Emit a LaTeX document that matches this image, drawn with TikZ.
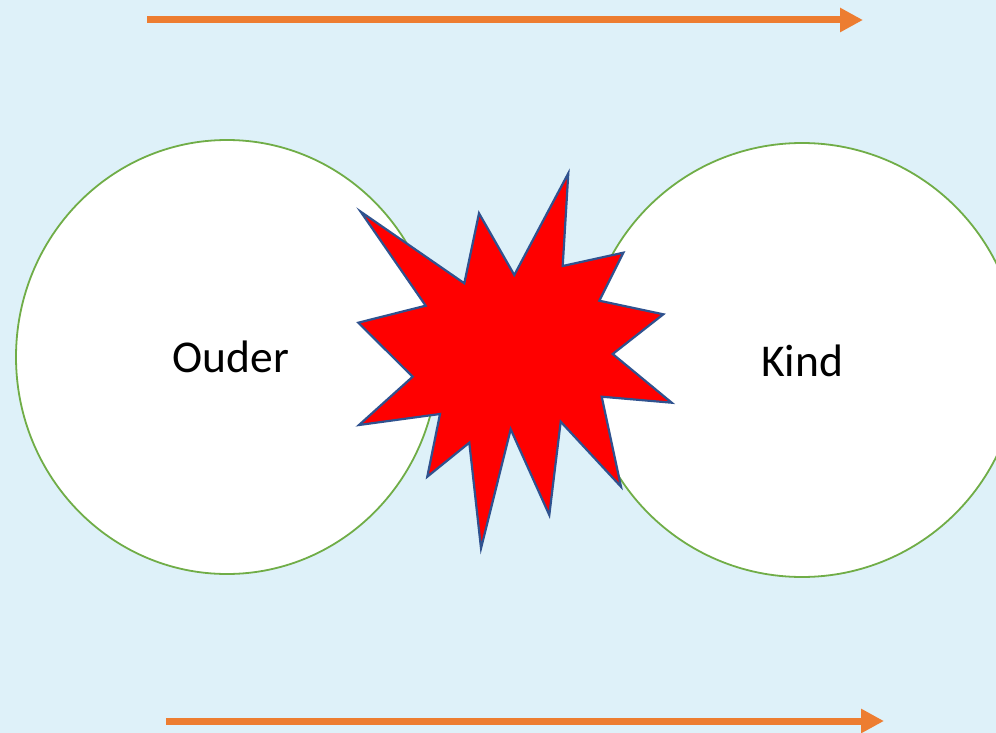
\documentclass[tikz,border=0pt]{standalone}
\usepackage{fontspec}
\setmainfont{Carlito}
\usetikzlibrary{arrows.meta,shapes.geometric}
\definecolor{bgblue}{RGB}{222,241,249}
\definecolor{orangearr}{RGB}{237,125,49}
\definecolor{greenring}{RGB}{112,173,71}
\definecolor{starblue}{RGB}{47,82,143}
\definecolor{starred}{RGB}{255,0,0}
\tikzset{
  ring/.style={ellipse, draw=greenring, fill=white, line width=1.8pt, inner sep=0pt},
  flow/.style={draw=orangearr, line width=7pt, -{Triangle[length=23pt,width=23pt]}},
  lbl/.style={font=\fontsize{45.5}{52}\selectfont, text=black},
  burst/.style={draw=starblue, fill=starred, line width=2.2pt, line join=miter}
}
\begin{document}
\begin{tikzpicture}[x=1pt,y=-1pt]
\fill[bgblue] (0,0) rectangle (996,733);
\useasboundingbox (0,0) rectangle (996,733);
\begin{scope}
\clip (0,0) rectangle (996,733);
\node[ring, minimum width=422pt, minimum height=434pt] (ouder) at (227,357) {};
\node[ring, minimum width=434pt, minimum height=434pt] (kind) at (802,360) {};
\end{scope}
\draw[burst] (360.7,211.7) -- (464.3,283.3) -- (479,213.3) -- (514.3,275) -- (568.3,173.3) -- (562.7,266) -- (623.3,252.7) -- (599.3,300.7) -- (663.3,314.3) -- (612.7,354) -- (671.7,402.7) -- (601.7,396.7) -- (621,486.7) -- (560.7,421.7) -- (549.3,515) -- (510.7,429.3) -- (481,548.3) -- (469.3,442.7) -- (427.3,476.7) -- (440,414) -- (359,425) -- (412.7,376.7) -- (358.3,322.7) -- (425.7,305.7) -- cycle;
\node[lbl] (tOuder) at (231,357) {Ouder};
\node[lbl] (tKind) at (802,361) {Kind};
\coordinate (a1) at (147,20);
\coordinate (b1) at (863,20);
\coordinate (a2) at (166,721);
\coordinate (b2) at (884,721);
\draw[flow] (a1) -- (b1);
\draw[flow] (a2) -- (b2);
\end{tikzpicture}
\end{document}
